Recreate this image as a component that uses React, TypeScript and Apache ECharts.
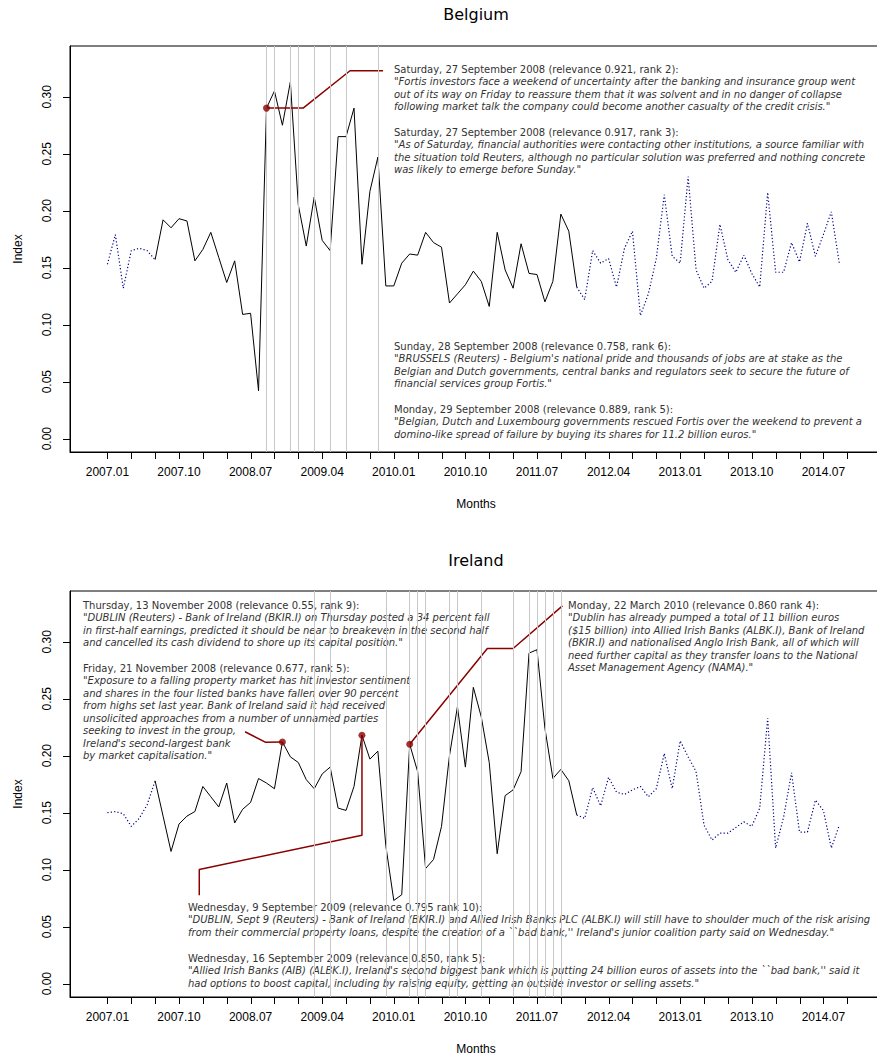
import React, { useEffect, useRef } from "react";
import * as echarts from "echarts";

// ---------- data ----------
const START_YEAR = 2007;
const belgiumValues = [
  0.153, 0.179, 0.132, 0.165, 0.167, 0.165, 0.157, 0.192, 0.185, 0.193,
  0.191, 0.156, 0.166, 0.181, 0.159, 0.137, 0.156, 0.109, 0.110, 0.042,
  0.290, 0.305, 0.275, 0.313, 0.205, 0.169, 0.212, 0.174, 0.165, 0.265,
  0.265, 0.290, 0.153, 0.217, 0.247, 0.134, 0.134, 0.154, 0.162, 0.161,
  0.181, 0.172, 0.168, 0.119, 0.127, 0.135, 0.147, 0.138, 0.116, 0.181,
  0.148, 0.132, 0.171, 0.145, 0.144, 0.120, 0.138, 0.197, 0.182, 0.133,
  0.122, 0.165, 0.154, 0.158, 0.133, 0.167, 0.182, 0.108, 0.127, 0.158,
  0.214, 0.160, 0.154, 0.230, 0.148, 0.132, 0.138, 0.188, 0.157, 0.146,
  0.161, 0.145, 0.133, 0.216, 0.146, 0.146, 0.172, 0.155, 0.189, 0.160,
  0.179, 0.199, 0.154,
];
const irelandValues = [
  0.150, 0.151, 0.149, 0.138, 0.145, 0.157, 0.178, 0.147, 0.116, 0.140,
  0.147, 0.151, 0.173, 0.164, 0.155, 0.176, 0.141, 0.153, 0.159, 0.180,
  0.176, 0.171, 0.212, 0.199, 0.194, 0.179, 0.171, 0.184, 0.190, 0.154,
  0.152, 0.173, 0.218, 0.197, 0.204, 0.121, 0.073, 0.078, 0.210, 0.186,
  0.101, 0.109, 0.138, 0.200, 0.243, 0.190, 0.260, 0.234, 0.194, 0.114,
  0.165, 0.170, 0.186, 0.290, 0.293, 0.224, 0.180, 0.188, 0.178, 0.148,
  0.145, 0.172, 0.156, 0.181, 0.168, 0.166, 0.170, 0.173, 0.164, 0.171,
  0.202, 0.171, 0.213, 0.199, 0.186, 0.139, 0.126, 0.132, 0.132, 0.137,
  0.142, 0.138, 0.154, 0.233, 0.119, 0.146, 0.185, 0.133, 0.133, 0.161,
  0.152, 0.119, 0.139,
];
// months (index from 2007.01) with news events
const belgiumEvents = [20, 21, 23, 24, 26, 28, 30, 34];
const irelandEvents = [26, 28, 35, 38, 39, 40, 43, 44, 47, 51, 53, 54, 55, 56, 57];
// highlighted months
const belgiumDots = [20];
const irelandDots = [22, 32, 38];
// solid (observed) range, dotted outside
const SOLID_START = 6;
const SOLID_END = 59;
// axis ticks
const xTickMonths = [0, 3, 6, 9, 12, 15, 18, 21, 24, 27, 30, 33, 36, 39, 42, 45, 48, 51, 54, 57, 60, 63, 66, 69, 72, 75, 78, 81, 84, 87, 90, 93];
const xLabelMonths = [0, 9, 18, 27, 36, 45, 54, 63, 72, 81, 90];
const yTicks = [0, 0.05, 0.1, 0.15, 0.2, 0.25, 0.3];

// annotation leader lines (from highlighted month to text), in data units
const belgiumLeaders = [
  { from: 20, path: [[24.6, 0.29], [30.5, 0.3228], [34.65, 0.3228]] },
];
const irelandLeaders = [
  { from: 22, path: [[19.9, 0.2117], [17.3, 0.221]] },
  { from: 32, path: [[32, 0.1302], [11.55, 0.1001], [11.55, 0.0775]] },
  { from: 38, path: [[47.76, 0.2941], [51.0, 0.2941], [57.2, 0.3315]] },
];

const belgiumNotes = [
  { x: 394, y: 63, lines: [
    "Saturday, 27 September 2008 (relevance 0.921, rank 2):",
    "\"Fortis investors face a weekend of uncertainty after the banking and insurance group went",
    "out of its way on Friday to reassure them that it was solvent and in no danger of collapse",
    "following market talk the company could become another casualty of the credit crisis.\"",
  ] },
  { x: 394, y: 126, lines: [
    "Saturday, 27 September 2008 (relevance 0.917, rank 3):",
    "\"As of Saturday, financial authorities were contacting other institutions, a source familiar with",
    "the situation told Reuters, although no particular solution was preferred and nothing concrete",
    "was likely to emerge before Sunday.\"",
  ] },
  { x: 394, y: 340, lines: [
    "Sunday, 28 September 2008 (relevance 0.758, rank 6):",
    "\"BRUSSELS (Reuters) - Belgium's national pride and thousands of jobs are at stake as the",
    "Belgian and Dutch governments, central banks and regulators seek to secure the future of",
    "financial services group Fortis.\"",
  ] },
  { x: 394, y: 403, lines: [
    "Monday, 29 September 2008 (relevance 0.889, rank 5):",
    "\"Belgian, Dutch and Luxembourg governments rescued Fortis over the weekend to prevent a",
    "domino-like spread of failure by buying its shares for 11.2 billion euros.\"",
  ] },
];
const irelandNotes = [
  { x: 83, y: 599, lines: [
    "Thursday, 13 November 2008 (relevance 0.55, rank 9):",
    "\"DUBLIN (Reuters) - Bank of Ireland (BKIR.I) on Thursday posted a 34 percent fall",
    "in first-half earnings, predicted it should be near to breakeven in the second half",
    "and cancelled its cash dividend to shore up its capital position.\"",
  ] },
  { x: 83, y: 662, lines: [
    "Friday, 21 November 2008 (relevance 0.677, rank 5):",
    "\"Exposure to a falling property market has hit investor sentiment",
    "and shares in the four listed banks have fallen over 90 percent",
    "from highs set last year. Bank of Ireland said it had received",
    "unsolicited approaches from a number of unnamed parties",
    "seeking to invest in the group,",
    "Ireland's second-largest bank",
    "by market capitalisation.\"",
  ] },
  { x: 188, y: 901, lines: [
    "Wednesday, 9 September 2009 (relevance 0.795 rank 10):",
    "\"DUBLIN, Sept 9 (Reuters) - Bank of Ireland (BKIR.I) and Allied Irish Banks PLC (ALBK.I) will still have to shoulder much of the risk arising",
    "from their commercial property loans, despite the creation of a ``bad bank,'' Ireland's junior coalition party said on Wednesday.\"",
  ] },
  { x: 188, y: 952, lines: [
    "Wednesday, 16 September 2009 (relevance 0.850, rank 5):",
    "\"Allied Irish Banks (AIB) (ALBK.I), Ireland's second biggest bank which is putting 24 billion euros of assets into the ``bad bank,'' said it",
    "had options to boost capital, including by raising equity, getting an outside investor or selling assets.\"",
  ] },
  { x: 568, y: 599, lines: [
    "Monday, 22 March 2010 (relevance 0.860 rank 4):",
    "\"Dublin has already pumped a total of 11 billion euros",
    "($15 billion) into Allied Irish Banks (ALBK.I), Bank of Ireland",
    "(BKIR.I) and nationalised Anglo Irish Bank, all of which will",
    "need further capital as they transfer loans to the National",
    "Asset Management Agency (NAMA).\"",
  ] },
];

// ---------- layout ----------
const GRID_LEFT = 70;
const GRID_WIDTH = 812;
const GRID_HEIGHT = 406;
const GRID_TOPS = [46, 591];
const TITLE_Y = [14, 560];
const X_MIN = -4.7;
const X_MAX = 97.37;
const Y_MIN = -0.0117;
const Y_MAX = 0.3445;
const TICK_LEN = 7;
const AXIS_FONT = "'Liberation Sans', Arial, Helvetica, sans-serif";
const NOTE_FONT = "'DejaVu Sans', Verdana, sans-serif";
const DARKRED = "#8B0000";
const LINE_H = 12.5;

function monthLabel(i: number) {
  const y = START_YEAR + Math.floor(i / 12);
  const m = (i % 12) + 1;
  return `${y}.${m < 10 ? "0" + m : m}`;
}

function buildPanel(g: number, values: number[], events: number[], dots: number[], leaders: any[]) {
  const pts = values.map((v, i) => [i, v]);
  const series: any[] = [
    {
      type: "line", xAxisIndex: g, yAxisIndex: g, z: 1,
      data: pts.filter((p) => p[0] <= SOLID_START),
      symbol: "none",
      lineStyle: { color: "#00008B", width: 1.2, type: [1.2, 2.2] },
      markLine: {
        silent: true, symbol: "none", label: { show: false },
        lineStyle: { color: "#c8c8c8", type: "solid", width: 1 },
        data: events.map((e) => ({ xAxis: e })),
      },
    },
    {
      type: "line", xAxisIndex: g, yAxisIndex: g, z: 2,
      data: pts.filter((p) => p[0] >= SOLID_END),
      symbol: "none",
      lineStyle: { color: "#00008B", width: 1.2, type: [1.2, 2.2] },
    },
    {
      type: "line", xAxisIndex: g, yAxisIndex: g, z: 3,
      data: pts.filter((p) => p[0] >= SOLID_START && p[0] <= SOLID_END),
      symbol: "none",
      lineStyle: { color: "#000", width: 1 },
    },
  ];
  leaders.forEach((l) => {
    series.push({
      type: "line", xAxisIndex: g, yAxisIndex: g, z: 4,
      data: [[l.from, values[l.from]], ...l.path],
      symbol: "none",
      lineStyle: { color: DARKRED, width: 1.5 },
    });
  });
  series.push({
    type: "scatter", xAxisIndex: g, yAxisIndex: g, z: 5,
    data: dots.map((i) => [i, values[i]]),
    symbolSize: 7,
    itemStyle: { color: DARKRED },
  });
  return series;
}

function notesGraphic(notes: any[]) {
  const els: any[] = [];
  notes.forEach((n) => {
    n.lines.forEach((t: string, k: number) => {
      els.push({
        type: "text",
        x: n.x,
        y: n.y + k * LINE_H + LINE_H / 2,
        style: {
          text: t,
          fill: "#333",
          font: `${k === 0 ? "normal" : "italic"} 10px ${NOTE_FONT}`,
          textAlign: "left",
          textVerticalAlign: "middle",
        },
      });
    });
  });
  return els;
}

export default function App() {
  const ref = useRef<HTMLDivElement>(null);
  useEffect(() => {
    if (!ref.current) return;
    const chart = echarts.init(ref.current, undefined, { renderer: "svg" });
    const grids = GRID_TOPS.map((top) => ({
      left: GRID_LEFT, top, width: GRID_WIDTH, height: GRID_HEIGHT,
      show: true, borderColor: "#000", borderWidth: 1,
    }));
    const xAxes = [0, 1].map((g) => ({
      gridIndex: g, type: "value", min: X_MIN, max: X_MAX,
      axisLine: { show: true, onZero: false, lineStyle: { color: "#000", width: 1 } },
      splitLine: { show: false },
      axisTick: { show: false },
      axisLabel: {
        customValues: xLabelMonths, formatter: (v: number) => monthLabel(Math.round(v)),
        margin: 14, fontFamily: AXIS_FONT, fontSize: 12, color: "#000",
      },
      name: "Months", nameLocation: "middle", nameGap: 46,
      nameTextStyle: { fontFamily: AXIS_FONT, fontSize: 12, color: "#000" },
    }));
    const yAxes = [0, 1].map((g) => ({
      gridIndex: g, type: "value", min: Y_MIN, max: Y_MAX,
      axisLine: { show: true, onZero: false, lineStyle: { color: "#000", width: 1 } },
      splitLine: { show: false },
      axisTick: { show: false },
      axisLabel: {
        customValues: yTicks, formatter: (v: number) => v.toFixed(2), rotate: 90,
        margin: 17, fontFamily: AXIS_FONT, fontSize: 12, color: "#000",
      },
      name: "Index", nameLocation: "middle", nameGap: 46, nameRotate: 90,
      nameTextStyle: { fontFamily: AXIS_FONT, fontSize: 12, color: "#000" },
    }));
    const titles = ["Belgium", "Ireland"].map((t, g) => ({
      type: "text", x: 476, y: TITLE_Y[g],
      style: {
        text: t, fill: "#000", font: `normal 16px ${NOTE_FONT}`,
        textAlign: "center", textVerticalAlign: "middle",
      },
    }));
    const baseGraphic = [...titles, ...notesGraphic(belgiumNotes), ...notesGraphic(irelandNotes)];
    chart.setOption({
      animation: false,
      backgroundColor: "#fff",
      grid: grids,
      xAxis: xAxes,
      yAxis: yAxes,
      series: [
        ...buildPanel(0, belgiumValues, belgiumEvents, belgiumDots, belgiumLeaders),
        ...buildPanel(1, irelandValues, irelandEvents, irelandDots, irelandLeaders),
      ],
      graphic: baseGraphic,
    });

    // tick marks placed through the axes' own scales (convertToPixel)
    const ticks: any[] = [];
    [0, 1].forEach((g) => {
      xTickMonths.forEach((m) => {
        const p = chart.convertToPixel({ gridIndex: g } as any, [m, Y_MIN]) as number[];
        if (!p) return;
        const x = Math.round(p[0]) + 0.5;
        const y = Math.round(p[1]);
        ticks.push({
          type: "line", silent: true, z: 100,
          shape: { x1: x, y1: y, x2: x, y2: y + TICK_LEN },
          style: { stroke: "#000", lineWidth: 1 },
        });
      });
      yTicks.forEach((v) => {
        const p = chart.convertToPixel({ gridIndex: g } as any, [X_MIN, v]) as number[];
        if (!p) return;
        const x = Math.round(p[0]);
        const y = Math.round(p[1]) + 0.5;
        ticks.push({
          type: "line", silent: true, z: 100,
          shape: { x1: x - TICK_LEN, y1: y, x2: x, y2: y },
          style: { stroke: "#000", lineWidth: 1 },
        });
      });
    });
    chart.setOption({ graphic: [...baseGraphic, ...ticks] });

    return () => chart.dispose();
  }, []);
  return (
    <div style={{ position: "absolute", left: 0, top: 0, width: 877, height: 1057, overflow: "hidden", background: "#fff" }}>
      <div ref={ref} style={{ width: 890, height: 1057 }} />
    </div>
  );
}
